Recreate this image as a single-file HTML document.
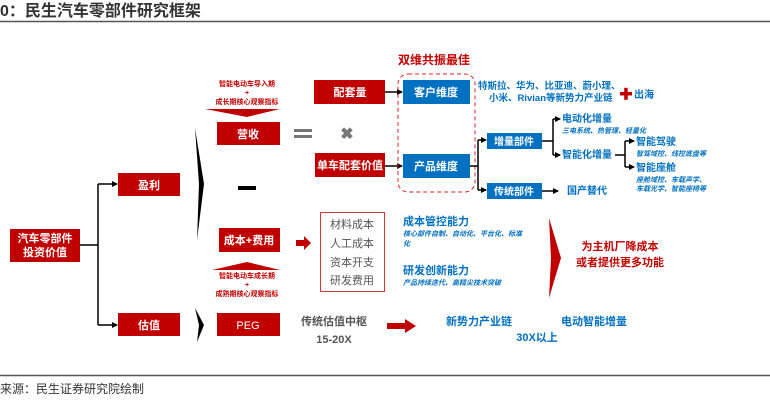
<!DOCTYPE html>
<html><head><meta charset="utf-8"><style>
html,body{margin:0;padding:0;background:#fff;}
svg{display:block;font-family:"Liberation Sans","Noto Sans CJK SC",sans-serif;}
</style></head><body>
<svg width="770" height="407" viewBox="0 0 770 407" xmlns="http://www.w3.org/2000/svg">
<defs>
<marker id="ah" markerWidth="6" markerHeight="6" refX="5" refY="3" orient="auto" markerUnits="userSpaceOnUse"><path d="M0,0 L6,3 L0,6 z" fill="#000"/></marker>
</defs>
<text x="0" y="16" font-size="16" font-weight="bold" fill="#333">0：民生汽车零部件研究框架</text>
<line x1="0" y1="21.5" x2="770" y2="21.5" stroke="#555" stroke-width="1.5"/>
<line x1="0" y1="375.5" x2="770" y2="375.5" stroke="#555" stroke-width="1.5"/>
<text x="0" y="393" font-size="12" fill="#333">来源：民生证券研究院绘制</text>

<g font-weight="bold" text-anchor="middle">
<rect x="10" y="229" width="70" height="33" fill="#C00000"/>
<text x="45" y="242" font-size="11" fill="#fff">汽车零部件</text>
<text x="45" y="256" font-size="11" fill="#fff">投资价值</text>
<path d="M80,245 H98 M98,184 V325" stroke="#000" stroke-width="1.5" fill="none"/>
<path d="M98,184 H117" stroke="#000" stroke-width="1.5" marker-end="url(#ah)"/>
<path d="M98,325 H117" stroke="#000" stroke-width="1.5" marker-end="url(#ah)"/>
<rect x="118" y="173" width="62" height="23" fill="#C00000"/>
<text x="149" y="189" font-size="11" fill="#fff">盈利</text>
<rect x="118" y="313" width="62" height="23" fill="#C00000"/>
<text x="149" y="329" font-size="11" fill="#fff">估值</text>
<polygon points="195,128 204,184 197,240 199,184" fill="#000"/>
<polygon points="195,308 204,325 197,342 199,325" fill="#000"/>

<text x="247" y="86" font-size="7" fill="#C00000">智能电动车导入期</text>
<text x="247" y="95" font-size="7" fill="#C00000">+</text>
<text x="247" y="104" font-size="7" fill="#C00000">成长期核心观察指标</text>
<polygon points="205,109 280,109 247,117" fill="#C00000"/>
<rect x="217" y="122" width="63" height="23" fill="#C00000"/>
<text x="248" y="138" font-size="11" fill="#fff">营收</text>
<rect x="294" y="129" width="18" height="3" fill="#777"/>
<rect x="294" y="135" width="18" height="3" fill="#777"/>
<text x="347" y="139" font-size="16" fill="#777">✖</text>
<rect x="238" y="186" width="18" height="4" fill="#000"/>

<rect x="314" y="80" width="71" height="24" fill="#C00000"/>
<text x="350" y="96" font-size="11" fill="#fff">配套量</text>
<rect x="315" y="153" width="70" height="24" fill="#C00000"/>
<text x="350" y="169" font-size="11" fill="#fff">单车配套价值</text>
<path d="M385,92 H402" stroke="#000" stroke-width="1.5" marker-end="url(#ah)"/>
<path d="M385,166 H402" stroke="#000" stroke-width="1.5" marker-end="url(#ah)"/>
<text x="434" y="64" font-size="12" fill="#C00000">双维共振最佳</text>
<rect x="398" y="74" width="77" height="118" rx="10" fill="none" stroke="#d22" stroke-width="1" stroke-dasharray="4,3"/>
<rect x="403" y="80" width="67" height="24" fill="#0070C0"/>
<text x="436" y="96" font-size="11" fill="#fff">客户维度</text>
<rect x="403" y="154" width="67" height="24" fill="#0070C0"/>
<text x="436" y="170" font-size="11" fill="#fff">产品维度</text>
</g>
<g font-weight="bold" fill="#0070C0">
<text x="478" y="89" font-size="9.5">特斯拉、华为、比亚迪、蔚小理、</text>
<text x="489" y="101" font-size="9.5">小米、Rivian等新势力产业链</text>
<text x="634" y="98" font-size="10">出海</text>
</g>
<rect x="620" y="92" width="12" height="3.5" fill="#C00000"/>
<rect x="624.2" y="87.8" width="3.5" height="12" fill="#C00000"/>

<g font-weight="bold" text-anchor="middle">
<path d="M470,166 H478 M478,140 V190" stroke="#000" stroke-width="1.5" fill="none"/>
<path d="M478,140 H486" stroke="#000" stroke-width="1.5" marker-end="url(#ah)"/>
<path d="M478,190 H486" stroke="#000" stroke-width="1.5" marker-end="url(#ah)"/>
<rect x="487" y="133" width="55" height="16" fill="#0070C0"/>
<text x="514" y="145" font-size="10" fill="#fff">增量部件</text>
<rect x="487" y="183" width="55" height="16" fill="#0070C0"/>
<text x="514" y="195" font-size="10" fill="#fff">传统部件</text>
<path d="M542,141 H553 M553,119 V155" stroke="#000" stroke-width="1.5" fill="none"/>
<path d="M553,119 H560" stroke="#000" stroke-width="1.5" marker-end="url(#ah)"/>
<path d="M553,155 H560" stroke="#000" stroke-width="1.5" marker-end="url(#ah)"/>
<path d="M542,191 H558" stroke="#000" stroke-width="1.5" marker-end="url(#ah)"/>
</g>
<g font-weight="bold" fill="#0070C0">
<text x="562" y="122" font-size="10">电动化增量</text>
<text x="562" y="133" font-size="7" font-style="italic">三电系统、热管理、轻量化</text>
<text x="562" y="158" font-size="10">智能化增量</text>
<text x="567" y="194" font-size="10">国产替代</text>
<text x="636" y="145" font-size="10">智能驾驶</text>
<text x="636" y="156" font-size="7" font-style="italic">智驾域控、线控底盘等</text>
<text x="636" y="171" font-size="10">智能座舱</text>
<text x="636" y="182" font-size="7" font-style="italic">座舱域控、车载声学、</text>
<text x="636" y="191" font-size="7" font-style="italic">车载光学、智能座椅等</text>
</g>
<path d="M615,155 H625 M625,141 V167" stroke="#000" stroke-width="1.5" fill="none"/>
<path d="M625,141 H634" stroke="#000" stroke-width="1.5" marker-end="url(#ah)"/>
<path d="M625,167 H634" stroke="#000" stroke-width="1.5" marker-end="url(#ah)"/>

<g font-weight="bold" text-anchor="middle">
<rect x="219" y="228" width="61" height="24" fill="#C00000"/>
<text x="249" y="244" font-size="11" fill="#fff">成本+费用</text>
<polygon points="212,270 280,270 247,262" fill="#C00000"/>
<text x="247" y="278" font-size="7" fill="#C00000">智能电动车成长期</text>
<text x="247" y="287" font-size="7" fill="#C00000">+</text>
<text x="247" y="296" font-size="7" fill="#C00000">成熟期核心观察指标</text>
<polygon points="296,240 304,240 304,236 311,243 304,250 304,246 296,246" fill="#C00000"/>
<rect x="320.5" y="212.5" width="64" height="79" fill="none" stroke="#d33" stroke-width="1"/>
<g font-weight="normal" fill="#555" font-size="11">
<text x="352" y="228">材料成本</text>
<text x="352" y="247">人工成本</text>
<text x="352" y="266">资本开支</text>
<text x="352" y="284">研发费用</text>
</g>
</g>
<g font-weight="bold" fill="#0070C0">
<text x="403" y="225" font-size="11">成本管控能力</text>
<text x="403" y="236" font-size="7" font-style="italic">核心部件自制、自动化、平台化、标准</text>
<text x="403" y="246" font-size="7" font-style="italic">化</text>
<text x="403" y="274" font-size="11">研发创新能力</text>
<text x="403" y="285" font-size="7" font-style="italic">产品持续迭代、高精尖技术突破</text>
</g>
<polygon points="549,218 561,258 549,298 551,258" fill="#C00000"/>
<g font-weight="bold" fill="#C00000" font-size="11" text-anchor="middle">
<text x="620" y="250">为主机厂降成本</text>
<text x="620" y="266">或者提供更多功能</text>
</g>

<g font-weight="bold" text-anchor="middle">
<rect x="217" y="313" width="63" height="23" fill="#C00000"/>
<text x="248" y="329" font-size="11" font-weight="normal" fill="#fff">PEG</text>
<text x="334" y="325" font-size="11" fill="#555">传统估值中枢</text>
<text x="334" y="343" font-size="11" fill="#555">15-20X</text>
<polygon points="387,323 405,323 405,319 416,326 405,333 405,329 387,329" fill="#C00000"/>
<text x="479" y="325" font-size="11" fill="#0070C0">新势力产业链</text>
<text x="594" y="325" font-size="11" fill="#0070C0">电动智能增量</text>
<text x="537" y="341" font-size="11" fill="#0070C0">30X以上</text>
</g>
</svg>
</body></html>
